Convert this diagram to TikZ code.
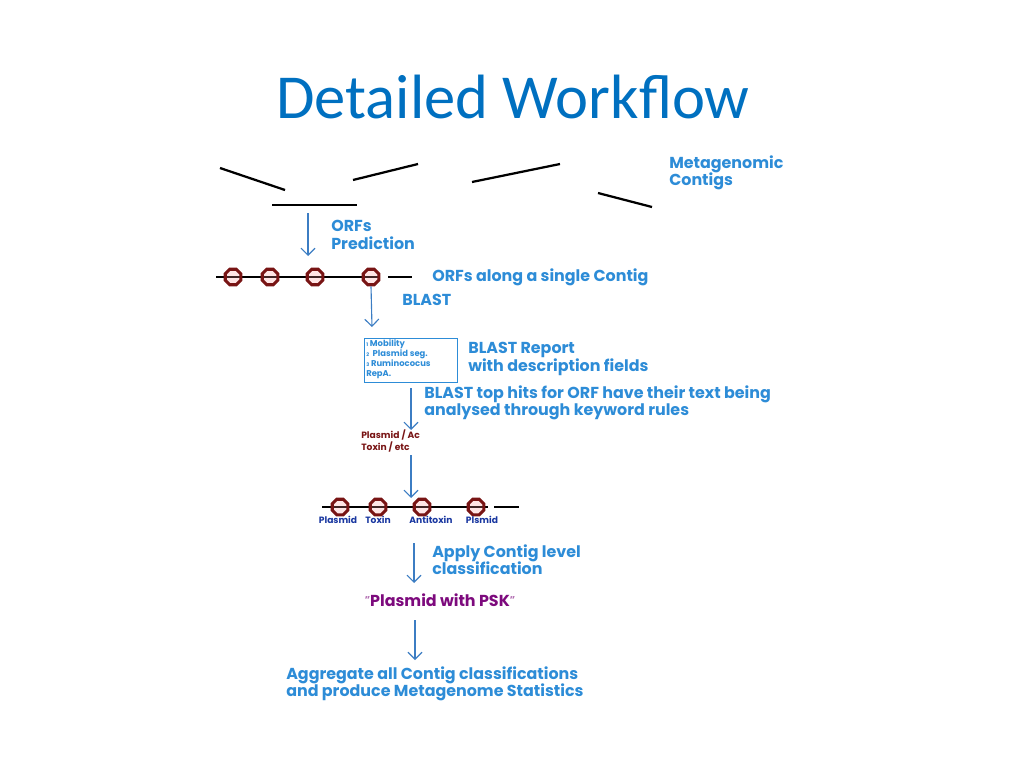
\documentclass[tikz,border=0pt]{standalone}
\usepackage{fontspec}
\setmainfont{Carlito}
\newfontfamily\flowfont{Poppins}
\usetikzlibrary{arrows.meta,shapes.geometric,positioning}
\definecolor{titleblue}{RGB}{0,112,192}
\definecolor{flowblue}{RGB}{45,140,215}
\definecolor{arrowblue}{RGB}{60,125,195}
\definecolor{orfred}{RGB}{120,20,20}
\definecolor{tagblue}{RGB}{25,55,160}
\definecolor{pskpurple}{RGB}{125,10,125}
\tikzset{
  flowtext/.style={font=\flowfont\bfseries\fontsize{11.3}{12.3}\selectfont, text=flowblue, align=left, anchor=west, inner sep=0pt},
  contig/.style={line width=1.6pt, black},
  orf/.style={regular polygon, regular polygon sides=8, minimum size=12pt, inner sep=0pt,
    draw=orfred, line width=2.2pt, fill=red!40!white, fill opacity=0.25, draw opacity=1},
  flowarrow/.style={-{Straight Barb[length=5pt,width=10pt]}, arrowblue, line width=0.8pt},
  tag/.style={font=\flowfont\bfseries\fontsize{6.5}{7}\selectfont, text=tagblue, inner sep=0pt}
}
\begin{document}
\begin{tikzpicture}[x=0.025cm, y=-0.025cm]
\useasboundingbox (0,0) rectangle (1024,768);
\node[font=\fontsize{44.5}{48}\selectfont, text=titleblue] (title) at (513,97) {Detailed Workflow};

% metagenomic contigs, scattered
\draw[contig] (220,168) -- (285,190);
\draw[contig] (353,180) -- (418,164);
\draw[contig] (472,182) -- (560,164);
\draw[contig] (598,193) -- (652,207);
\draw[contig] (272,205) -- (357,205);
\node[flowtext] (metagenomic) at (669,173) {Metagenomic\\Contigs};

% ORFs prediction
\coordinate (a1s) at (308,213);
\coordinate (a1e) at (308,256);
\draw[flowarrow] (a1s) -- (a1e);
\node[flowtext] (prediction) at (331,235) {ORFs\\Prediction};

% ORFs along one contig
\draw[contig] (216,277) -- (378,277);
\draw[contig] (388,277) -- (412,277);
\foreach \x [count=\i] in {233,270,315,371}
  \node[orf] (orf\i) at (\x,277) {};
\node[flowtext] (single) at (432,277) {ORFs along a single Contig};

% BLAST
\coordinate (a2e) at (372,327);
\draw[flowarrow] (orf4.south) -- (a2e);
\node[flowtext] (blast) at (402,300) {BLAST};

% BLAST report box
\node[draw=flowblue, line width=1pt, minimum width=93*0.025cm, minimum height=44*0.025cm, anchor=north west, inner sep=0pt] (report) at (364,338) {};
\node[font=\flowfont\bfseries\fontsize{6}{7.2}\selectfont, text=flowblue, align=left, anchor=north west, inner sep=0pt] (hits) at (366,339.5)
  {{\fontsize{3.5}{3}\selectfont 1} Mobility\\{\fontsize{3.5}{3}\selectfont 2}\ \ Plasmid seg.\\{\fontsize{3.5}{3}\selectfont 3} Ruminococus\\RepA.};
\node[flowtext] (reporttext) at (468,359) {BLAST Report\\with description fields};

% keyword rules
\coordinate (a3e) at (411,430);
\draw[flowarrow] (report.south -| a3e) ++(0,5) -- (a3e);
\node[flowtext] (keyword) at (424,403) {BLAST top hits for ORF have their text being\\analysed through keyword rules};
\node[font=\flowfont\bfseries\fontsize{6.5}{7.2}\selectfont, text=orfred, align=left, anchor=west, inner sep=0pt] (keys) at (361,441) {Plasmid / Ac\\Toxin / etc};

% labelled ORFs
\coordinate (a4s) at (411,455);
\coordinate (a4e) at (411,498);
\draw[flowarrow] (a4s) -- (a4e);
\draw[contig] (322,507) -- (488,507);
\draw[contig] (494,507) -- (519,507);
\foreach \x [count=\i] in {340,378,422,476}
  \node[orf] (lorf\i) at (\x,507) {};
\node[tag] (t1) at (338,520) {Plasmid};
\node[tag] (t2) at (378,520) {Toxin};
\node[tag] (t3) at (431,520) {Antitoxin};
\node[tag] (t4) at (482,520) {Plsmid};

% contig level classification
\coordinate (a5s) at (414,543);
\coordinate (a5e) at (414,583);
\draw[flowarrow] (a5s) -- (a5e);
\node[flowtext] (apply) at (432,560) {Apply Contig level\\classification};
\node[font=\flowfont\bfseries\fontsize{11.3}{12}\selectfont, text=pskpurple, inner sep=0pt] (psk) at (440,600)
  {{\color{pskpurple!60}\fontsize{7}{7}\selectfont\raisebox{2pt}{\textquotedblright}}Plasmid with PSK{\color{pskpurple!60}\fontsize{7}{7}\selectfont\raisebox{2pt}{\textquotedblright}}};

% statistics
\coordinate (a6s) at (415,620);
\coordinate (a6e) at (415,660);
\draw[flowarrow] (a6s) -- (a6e);
\node[flowtext] (aggregate) at (286,684) {Aggregate all Contig classifications\\and produce Metagenome Statistics};
\end{tikzpicture}
\end{document}
